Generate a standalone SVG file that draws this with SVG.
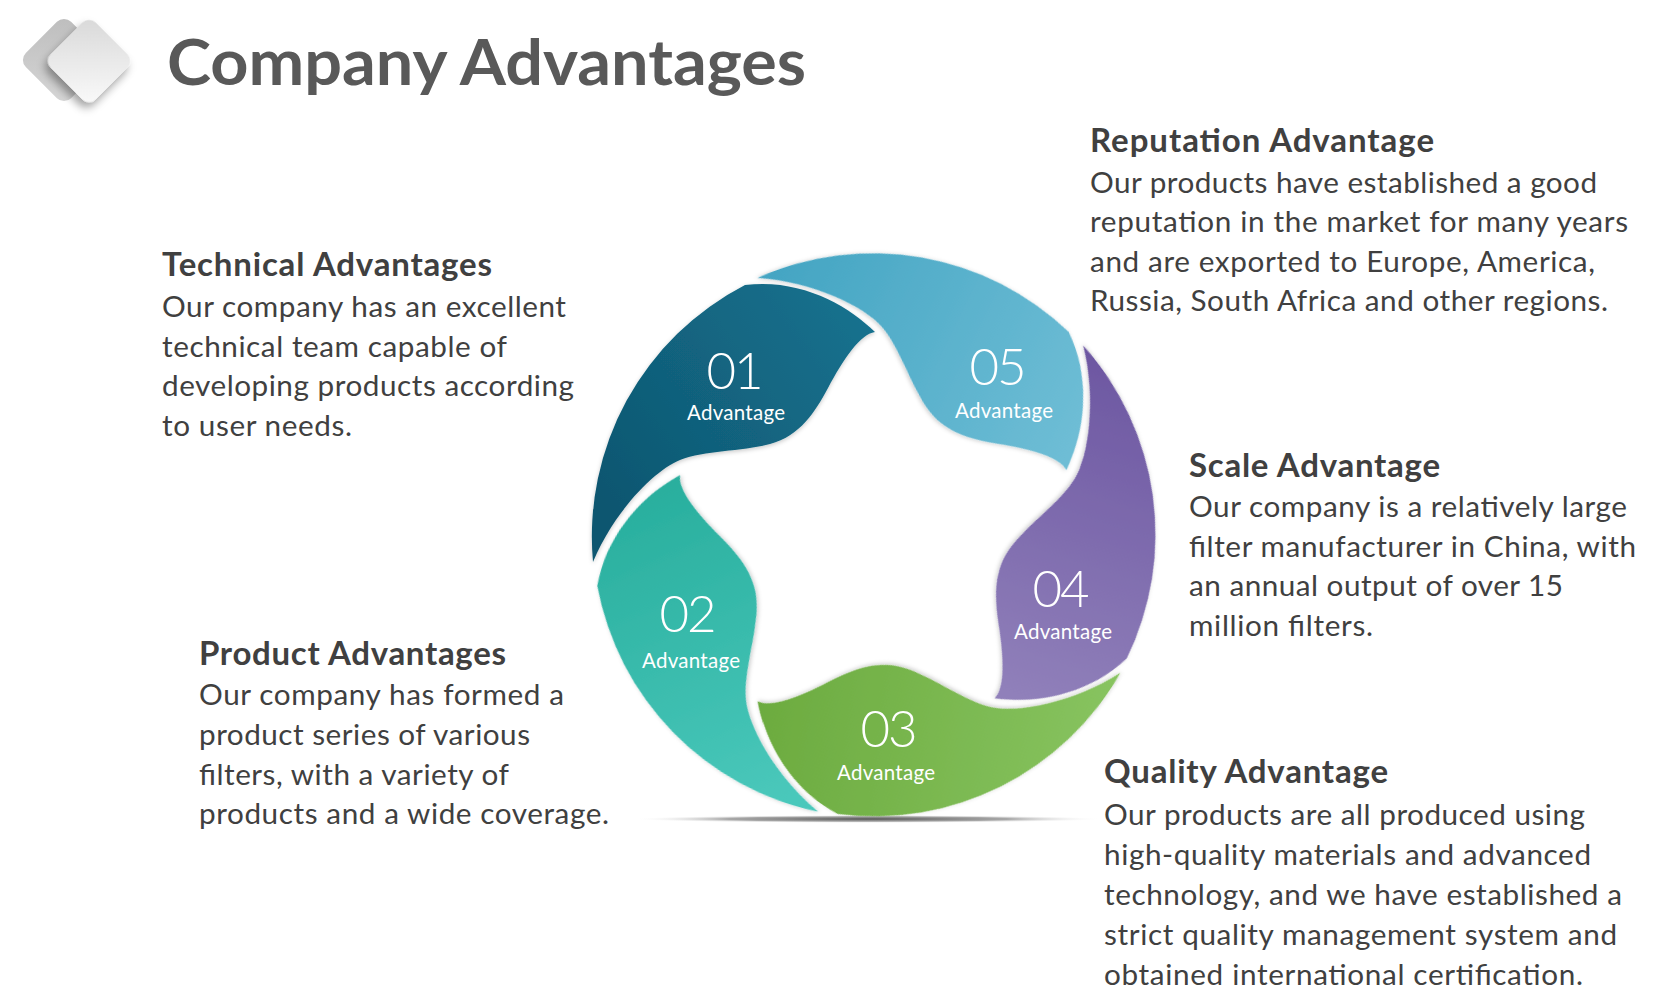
<svg xmlns="http://www.w3.org/2000/svg" width="1668" height="1005" viewBox="0 0 1668 1005">
<defs>
<style>
.t{font-family:Lato,"Liberation Sans",sans-serif;fill:#404040}
.h{font-size:33px;font-weight:700}
.b{font-size:29.7px}
.n{font-family:Lato,"Liberation Sans",sans-serif;fill:#fff;font-size:51px;font-weight:300;text-anchor:middle}
.a{font-family:Lato,"Liberation Sans",sans-serif;fill:#fff;font-size:20.5px;text-anchor:middle}
</style>
<path id="petal" d="M 593 562 A 283 283 0 0 1 745 285 C 800 278 848 305 875 332 C 860 334 843 360 828 388 C 815 412 800 436 770 444 C 740 452 705 450 680 460 C 655 470 615 510 593 562 Z"/>
<linearGradient id="g1" gradientUnits="userSpaceOnUse" x1="600" y1="500" x2="870" y2="300"><stop offset="0" stop-color="#0E5670"/><stop offset="1" stop-color="#16728F"/></linearGradient>
<linearGradient id="g5" gradientUnits="userSpaceOnUse" x1="770" y1="280" x2="1080" y2="430" gradientTransform="rotate(-71.1 874 535)"><stop offset="0" stop-color="#44A5C3"/><stop offset="1" stop-color="#6EBDD5"/></linearGradient>
<linearGradient id="g4" gradientUnits="userSpaceOnUse" x1="1110" y1="350" x2="1000" y2="690" gradientTransform="rotate(-143.3 874 535)"><stop offset="0" stop-color="#6C56A1"/><stop offset="1" stop-color="#9080BA"/></linearGradient>
<linearGradient id="g3" gradientUnits="userSpaceOnUse" x1="760" y1="680" x2="1110" y2="720" gradientTransform="rotate(-214.7 874 535)"><stop offset="0" stop-color="#6CAB3F"/><stop offset="1" stop-color="#87C35F"/></linearGradient>
<linearGradient id="g2" gradientUnits="userSpaceOnUse" x1="650" y1="480" x2="790" y2="800" gradientTransform="rotate(-286.9 874 535)"><stop offset="0" stop-color="#28AE9D"/><stop offset="1" stop-color="#4AC8BB"/></linearGradient>
<radialGradient id="sh" cx="0.5" cy="0.5" r="0.5"><stop offset="0" stop-color="#555555"/><stop offset="0.6" stop-color="#8A8A8A" stop-opacity="0.75"/><stop offset="1" stop-color="#FFFFFF" stop-opacity="0"/></radialGradient>
<linearGradient id="ib" x1="0" y1="0" x2="1" y2="1"><stop offset="0" stop-color="#BDBDBD"/><stop offset="1" stop-color="#D6D6D6"/></linearGradient>
<linearGradient id="if" x1="0" y1="0" x2="1" y2="1"><stop offset="0" stop-color="#D8D8D8"/><stop offset="1" stop-color="#FAFAFA"/></linearGradient>
<filter id="ds" x="-30%" y="-30%" width="160%" height="170%"><feDropShadow dx="2" dy="6" stdDeviation="4" flood-color="#000" flood-opacity="0.35"/></filter>
<filter id="ps" x="-10%" y="-10%" width="120%" height="120%"><feDropShadow dx="0" dy="1.5" stdDeviation="2" flood-color="#000" flood-opacity="0.22"/></filter>
</defs>
<rect width="1668" height="1005" fill="#FFFFFF"/>

<g id="header">
<rect x="-32" y="-32" width="64" height="64" rx="10" transform="translate(64 60) rotate(45)" fill="url(#ib)"/>
<rect x="-32" y="-32" width="64" height="64" rx="10" transform="translate(89 61) rotate(45)" fill="url(#if)" filter="url(#ds)"/>
<text x="167" y="85" font-family="Lato,'Liberation Sans',sans-serif" font-size="64" font-weight="700" fill="#595959" textLength="639" lengthAdjust="spacingAndGlyphs">Company Advantages</text>
</g>

<ellipse id="base-shadow" cx="868" cy="819" rx="236" ry="4" fill="url(#sh)"/>

<g id="node-01">
<use href="#petal" fill="url(#g1)" filter="url(#ps)"/>
<text class="n" x="735" y="389" textLength="57">01</text>
<text class="a" x="736" y="420" textLength="98">Advantage</text>
</g>
<g id="node-02">
<use href="#petal" fill="url(#g2)" filter="url(#ps)" transform="rotate(286.9 874 535)"/>
<text class="n" x="688" y="632" textLength="57">02</text>
<text class="a" x="691" y="668" textLength="98">Advantage</text>
</g>
<g id="node-03">
<use href="#petal" fill="url(#g3)" filter="url(#ps)" transform="rotate(214.7 874 535)"/>
<text class="n" x="889" y="747" textLength="57">03</text>
<text class="a" x="886" y="780" textLength="98">Advantage</text>
</g>
<g id="node-04">
<use href="#petal" fill="url(#g4)" filter="url(#ps)" transform="rotate(143.3 874 535)"/>
<text class="n" x="1061" y="607" textLength="57">04</text>
<text class="a" x="1063" y="639" textLength="98">Advantage</text>
</g>
<g id="node-05">
<use href="#petal" fill="url(#g5)" filter="url(#ps)" transform="rotate(71.1 874 535)"/>
<text class="n" x="998" y="385" textLength="57">05</text>
<text class="a" x="1004" y="418" textLength="98">Advantage</text>
</g>

<g id="text-technical" class="t">
<text class="h" x="162" y="276" textLength="330">Technical Advantages</text>
<text class="b" x="162" y="317" textLength="404">Our company has an excellent</text>
<text class="b" x="162" y="357" textLength="345">technical team capable of</text>
<text class="b" x="162" y="396" textLength="412">developing products according</text>
<text class="b" x="162" y="436" textLength="190">to user needs.</text>
</g>
<g id="text-reputation" class="t">
<text class="h" x="1090" y="152" textLength="344">Reputation Advantage</text>
<text class="b" x="1090" y="193" textLength="507">Our products have established a good</text>
<text class="b" x="1090" y="232" textLength="538">reputation in the market for many years</text>
<text class="b" x="1090" y="272" textLength="505">and are exported to Europe, America,</text>
<text class="b" x="1090" y="311" textLength="518">Russia, South Africa and other regions.</text>
</g>
<g id="text-scale" class="t">
<text class="h" x="1189" y="477" textLength="251">Scale Advantage</text>
<text class="b" x="1189" y="517" textLength="438">Our company is a relatively large</text>
<text class="b" x="1189" y="557" textLength="447">filter manufacturer in China, with</text>
<text class="b" x="1189" y="596" textLength="374">an annual output of over 15</text>
<text class="b" x="1189" y="636" textLength="184">million filters.</text>
</g>
<g id="text-product" class="t">
<text class="h" x="199" y="665" textLength="307">Product Advantages</text>
<text class="b" x="199" y="705" textLength="365">Our company has formed a</text>
<text class="b" x="199" y="745" textLength="331">product series of various</text>
<text class="b" x="199" y="785" textLength="310">filters, with a variety of</text>
<text class="b" x="199" y="824" textLength="410">products and a wide coverage.</text>
</g>
<g id="text-quality" class="t">
<text class="h" x="1104" y="783" textLength="284">Quality Advantage</text>
<text class="b" x="1104" y="825" textLength="481">Our products are all produced using</text>
<text class="b" x="1104" y="865" textLength="487">high-quality materials and advanced</text>
<text class="b" x="1104" y="905" textLength="518">technology, and we have established a</text>
<text class="b" x="1104" y="945" textLength="513">strict quality management system and</text>
<text class="b" x="1104" y="985" textLength="479">obtained international certification.</text>
</g>
</svg>
